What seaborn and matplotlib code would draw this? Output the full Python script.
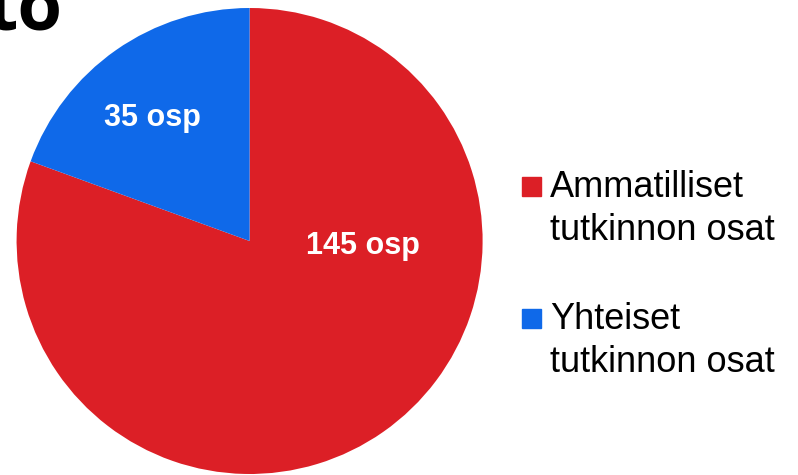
import seaborn as sns
import matplotlib.pyplot as plt
from matplotlib.patches import Rectangle

# data
categories = ['Ammatilliset\ntutkinnon osat', 'Yhteiset\ntutkinnon osat']
values = [145, 35]
slice_labels = ['145 osp', '35 osp']
colors = ['#DC1F26', '#0F69E9']

sns.set_style('white')
plt.rcParams['font.family'] = ['Liberation Sans', 'DejaVu Sans']

W, H = 798, 475
fig = plt.figure(figsize=(W / 100, H / 100), dpi=100)

# pie: centre (249.6, 241) px, radius 233 px
cx, cy, r = 249.6, 241, 233
ax = fig.add_axes([(cx - r) / W, (H - cy - r) / H, 2 * r / W, 2 * r / H])
ax.pie(values, colors=colors, startangle=90, counterclock=False,
       wedgeprops=dict(linewidth=0))
ax.set_xlim(-1, 1)
ax.set_ylim(-1, 1)
ax.set_aspect('equal')
ax.axis('off')

# slice labels (placed by hand like in the original slide)
label_pos = [(0.485, -0.02), (-0.419, 0.53)]
for txt, (x, y) in zip(slice_labels, label_pos):
    ax.text(x, y, txt, color='white', fontsize=22, fontweight='bold',
            ha='center', va='center')

# cut off title fragment top-left
fig.text(63 / W, (H - 29) / H, 'to', fontsize=52, fontweight='bold',
         color='black', family=['Open Sans', 'DejaVu Sans'],
         ha='right', va='baseline')

# legend (baseline of a multi-line text = its last line)
leg_y = [177, 309]
for lab, col, y in zip(categories, colors, leg_y):
    fig.patches.append(Rectangle((522 / W, (H - y - 19) / H), 19 / W, 19 / H,
                                 transform=fig.transFigure, color=col))
    fig.text(550 / W, (H - y - 63) / H, lab, fontsize=26, color='black',
             ha='left', va='baseline', linespacing=1.28)

fig.savefig('out.png', dpi=100)
